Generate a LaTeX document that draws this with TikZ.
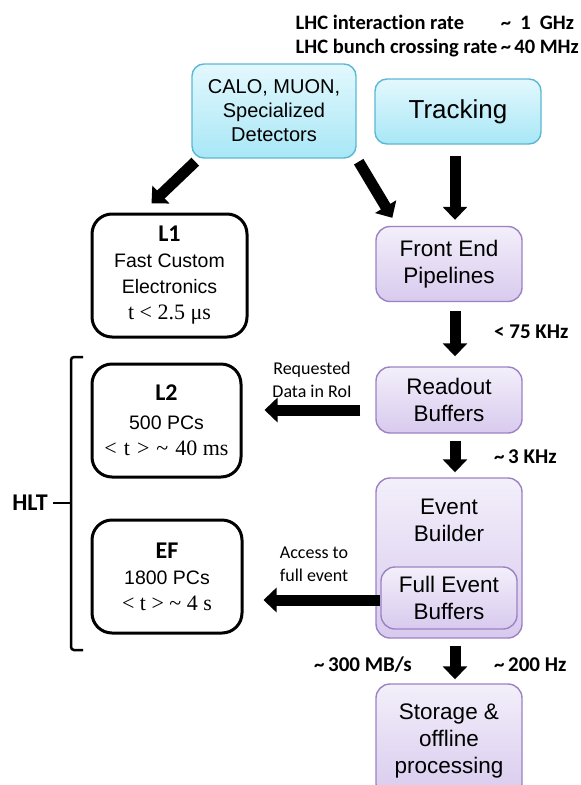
\documentclass[tikz,border=0pt]{standalone}
\usepackage{fontspec}
\setmainfont{Liberation Sans}
\newfontfamily\calib[Ligatures=CommonOff]{Carlito}
\newfontfamily\tms{Liberation Serif}
\usetikzlibrary{arrows.meta}

\definecolor{detTop}{HTML}{E3F8FD}
\definecolor{detBot}{HTML}{A8E7F6}
\definecolor{detLine}{HTML}{5BB8D4}
\definecolor{daqTop}{HTML}{F3EFFA}
\definecolor{daqBot}{HTML}{D8CAEE}
\definecolor{daqLine}{HTML}{9C82C3}

\newcommand\lvl[1]{{\calib\bfseries\fontsize{24}{26}\selectfont #1}}
\newcommand\tim[1]{{\tms\fontsize{22}{26}\selectfont #1}}
\newcommand\tgap{\hspace{7pt}}

\tikzset{
	det/.style={draw=detLine, line width=1.4pt, rounded corners=12pt, top color=detTop, bottom color=detBot, align=center, inner sep=0pt},
	daqtext/.style={align=center, inner sep=0pt, font=\fontsize{22.5}{27}\selectfont},
	daq/.style={daqtext, draw=daqLine, line width=1.4pt, rounded corners=14pt, top color=daqTop, bottom color=daqBot},
	trig/.style={draw, line width=3pt, rounded corners=20pt, fill=white, align=center, inner sep=0pt, font=\fontsize{19.5}{26}\selectfont},
	fat/.style={line width=11pt, -{Triangle[length=13pt,width=24pt]}},
	rate/.style={font=\calib\bfseries\fontsize{21}{24}\selectfont, inner sep=0pt},
	note/.style={font=\calib\fontsize{18}{23}\selectfont, align=center, inner sep=0pt},
	brk/.style={line width=2.5pt, rounded corners=3pt},
}

\begin{document}
\begin{tikzpicture}[x=1pt, y=-1pt]
		\path[use as bounding box, clip] (0,0) rectangle (581,785);

		% rates at the top
		\node[rate, font=\calib\bfseries\fontsize{20.5}{24}\selectfont, anchor=east] (lhc) at (579,37) {\begin{tabular}{@{}l@{\,}l@{}}
				LHC interaction rate & \textasciitilde\ \ 1\ \ GHz\\
				LHC bunch crossing rate & \textasciitilde\,40 MHz
			\end{tabular}};

		% detectors
		\node[det, minimum width=164pt, minimum height=94pt, font=\fontsize{20}{24}\selectfont] (calo) at (274,111) {CALO, MUON,\\Specialized\\Detectors};
		\node[det, minimum width=166pt, minimum height=65pt, font=\fontsize{26}{30}\selectfont] (track) at (458,111.5) {Tracking};

		% data flow
		\node[daq, minimum width=146pt, minimum height=75pt] (fe) at (449,264) {Front End\\Pipelines};
		\node[daq, minimum width=146pt, minimum height=66pt] (ro) at (449,400) {Readout\\Buffers};
		\node[daq, minimum width=146pt, minimum height=160pt] (eb) at (449,558) {};
		\node[daqtext] (ebt) at (449,520) {Event\\Builder};
		\node[daq, minimum width=136pt, minimum height=62pt] (feb) at (449,598) {Full Event\\Buffers};
		\node[daq, minimum width=146pt, minimum height=114pt] (st) at (449,741) {Storage \&\\offline\\processing};

		% trigger levels
		\node[trig, minimum width=155pt, minimum height=123pt] (l1) at (169.5,275.5) {\lvl{L1}\\Fast Custom\\Electronics\\\tim{t < 2.5 μs}};
		\node[trig, minimum width=149pt, minimum height=113pt] (l2) at (166.5,420.5) {\lvl{L2}\\[3pt]500 PCs\\\tim{<\tgap t\tgap >\tgap\textasciitilde\tgap 40 ms}};
		\node[trig, minimum width=150pt, minimum height=113pt] (ef) at (167,576.5) {\lvl{EF}\\1800 PCs\\\tim{< t > \textasciitilde\ 4 s}};

		% labels
		\node[rate, anchor=west] (r1) at (494,332) {< 75 KHz};
		\node[rate, anchor=west] (r2) at (494,457) {\textasciitilde\,3 KHz};
		\node[rate, anchor=west] (r3) at (494,665) {\textasciitilde\,200 Hz};
		\node[rate, anchor=east] (r4) at (412,665) {\textasciitilde\,300 MB/s};
		\node[note] (req) at (312,380) {Requested\\Data in RoI};
		\node[note] (acc) at (314,564) {Access to\\full event};

		% arrows
		\draw[fat] ([shift={(4,3)}]calo.south west) -- ([shift={(-18,-9)}]l1.north);
		\draw[fat] ([shift={(2,3)}]calo.south east) -- ([shift={(17,-8)}]fe.north west);
		\draw[fat] ([shift={(-3,11)}]track.south) -- ([shift={(-3,-6)}]track.south |- fe.north);
		\draw[fat] ([shift={(6,9)}]fe.south) -- ([shift={(6,-10)}]ro.north);
		\draw[fat] ([shift={(6,7)}]ro.south) -- ([shift={(6,-5)}]eb.north);
		\draw[fat] ([shift={(6,7)}]eb.south) -- ([shift={(6,-4)}]st.north);
		\draw[fat] ([shift={(-15,10)}]ro.west) -- ([shift={(22,10)}]l2.east |- ro.west);
		\draw[fat] ([shift={(0,2)}]feb.west) -- ([shift={(20,2)}]ef.east |- feb.west);

		% HLT bracket
		\node[rate, font=\calib\bfseries\fontsize{24}{26}\selectfont] (hlt) at (30,503) {HLT};
		\coordinate (bmid) at (71,503);
		\draw[brk] (83,357) -- (71,357) -- (71,650) -- (83,650);
		\draw[brk] ([xshift=5pt]hlt.east) -- (bmid);
	\end{tikzpicture}
\end{document}
